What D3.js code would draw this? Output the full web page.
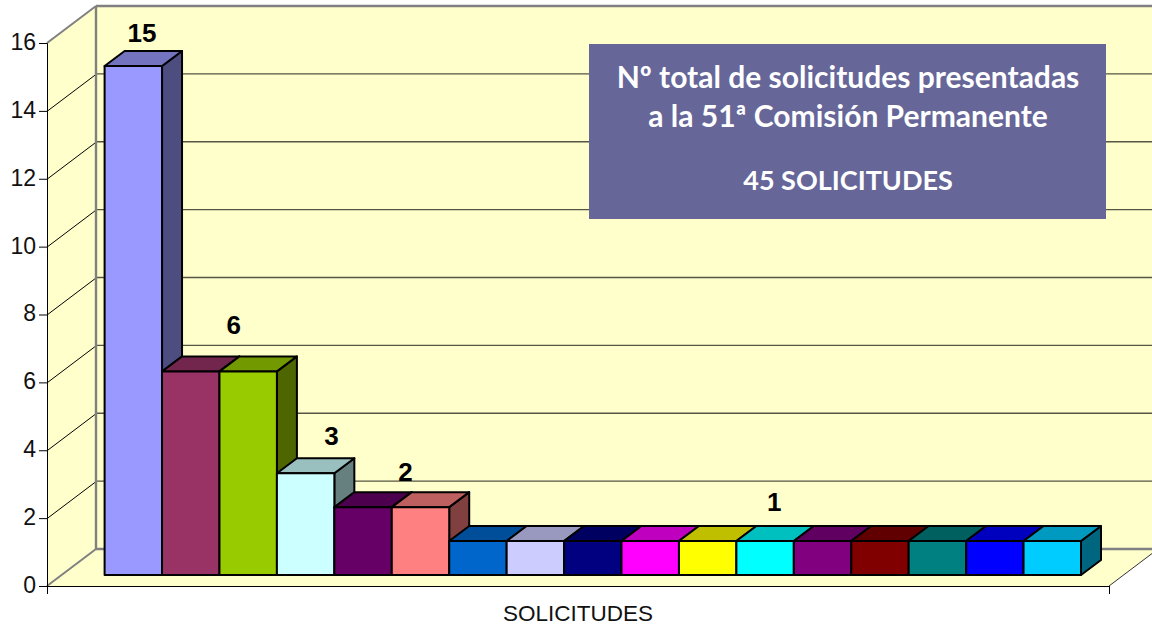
<!DOCTYPE html>
<html><head><meta charset="utf-8">
<script src="https://cdn.jsdelivr.net/npm/d3@7/dist/d3.min.js"></script>
<style>html,body{margin:0;padding:0;background:#fff;overflow:hidden}svg{display:block}</style>
</head><body><svg id="c" width="1152" height="625"></svg>
<script>
const categories = ["S1","S2","S3","S4","S5","S6","S7","S8","S9","S10","S11","S12","S13","S14","S15","S16","S17"];
const values = [15,6,6,3,2,2,1,1,1,1,1,1,1,1,1,1,1];
const barColors = ["#9999FF","#993366","#99CC00","#CCFFFF","#660066","#FF8080","#0066CC","#CCCCFF","#000080","#FF00FF","#FFFF00","#00FFFF","#800080","#800000","#008080","#0000FF","#00CCFF"];
const yTicks = [0,2,4,6,8,10,12,14,16];
const axisTitle = "SOLICITUDES";
const labelValues = [15,6,3,2,1];
const boxLines = ["Nº total de solicitudes presentadas","a la 51ª Comisión Permanente","45 SOLICITUDES"];

const svg = d3.select("#c");
const y = d3.scaleLinear().domain([0,16]).range([586,43]);
const x = d3.scaleBand().domain(categories).range([104.6,1081]).padding(0);
const frame = d3.scaleLinear().domain([0,1]).range([47,1109]);
const wallDx = 49, wallDy = -37, barDx = 20, barDy = -15, barBase = 575;
const yb = v => y(v) - y(0) + barBase;
const wall = "#FFFFCC", grey = "#808080";
const poly = p => p.map(d => d.join(",")).join(" ");
const shade = (c,k) => { const r = d3.rgb(c); return d3.rgb(r.r*k,r.g*k,r.b*k).formatHex(); };

const x0 = frame(0), x1 = frame(1), xr = 1160;
// walls
svg.append("polygon").attr("points",poly([[x0+wallDx,y(16)+wallDy],[xr,y(16)+wallDy],[xr,y(0)+wallDy],[x0+wallDx,y(0)+wallDy]])).attr("fill",wall);
svg.append("polygon").attr("points",poly([[x0,y(0)],[x0+wallDx,y(0)+wallDy],[x0+wallDx,y(16)+wallDy],[x0,y(16)]])).attr("fill",wall);
svg.append("polygon").attr("points",poly([[x0,y(0)],[x0+wallDx,y(0)+wallDy],[x1+wallDx,y(0)+wallDy],[x1,y(0)]])).attr("fill",wall);
// gridlines
const inner = yTicks.filter(t => t>0 && t<16);
svg.selectAll(".gs").data(inner).join("line").attr("x1",x0).attr("x2",x0+wallDx).attr("y1",d=>y(d)+.5).attr("y2",d=>y(d)+wallDy+.5).attr("stroke","#000").attr("stroke-width",1);
svg.selectAll(".gb").data(inner).join("line").attr("x1",x0+wallDx).attr("x2",xr).attr("y1",d=>y(d)+wallDy).attr("y2",d=>y(d)+wallDy).attr("stroke","#555544").attr("stroke-width",1.4);
// wall edges
const edge = (a,b,c,d,col,w)=>svg.append("line").attr("x1",a).attr("y1",b).attr("x2",c).attr("y2",d).attr("stroke",col).attr("stroke-width",w);
edge(x0,y(16),x0+wallDx,y(16)+wallDy,grey,2);
edge(x0,y(0),x0+wallDx,y(0)+wallDy,grey,2);
edge(x0+wallDx,y(16)+wallDy,x0+wallDx,y(0)+wallDy,grey,2.4);
edge(x0+wallDx,y(16)+wallDy,xr,y(16)+wallDy,grey,2.4);
edge(x0+wallDx,y(0)+wallDy,xr,y(0)+wallDy,grey,2.4);
edge(x1,y(0),x1+wallDx,y(0)+wallDy,"#333",1);
// axes
const gy = svg.append("g").attr("transform",`translate(${x0},0)`).call(d3.axisLeft(y).tickValues(yTicks).tickSize(8).tickPadding(3).tickFormat(d3.format("d")));
gy.selectAll("path,line").attr("stroke","#000").attr("stroke-width",1);
gy.selectAll("text").attr("font-family","'Liberation Sans',Arial,sans-serif").attr("font-size",23).attr("fill","#111").attr("dy","0.28em");
const gx = svg.append("g").attr("transform",`translate(0,${y(0)})`).call(d3.axisBottom(frame).tickValues([0,1]).tickSize(8).tickFormat(""));
gx.selectAll("path,line").attr("stroke","#000").attr("stroke-width",1);
// bars (back to front in left to right order)
const bars = svg.selectAll(".bar").data(categories.map((c,i)=>({c,v:values[i],col:barColors[i]}))).join("g").attr("class","bar");
const st = {stroke:"#000","stroke-width":2,"stroke-linejoin":"round"};
bars.each(function(d){
  const g = d3.select(this), l = x(d.c), r = l + x.bandwidth(), t = yb(d.v), b = barBase;
  const add = (pts,fill)=>{const p=g.append("polygon").attr("points",poly(pts)).attr("fill",fill);Object.entries(st).forEach(([k,v])=>p.attr(k,v));};
  add([[r,t],[r+barDx,t+barDy],[r+barDx,b+barDy],[r,b]],shade(d.col,.5));
  add([[l,t],[l+barDx,t+barDy],[r+barDx,t+barDy],[r,t]],shade(d.col,.75));
  add([[l,t],[r,t],[r,b],[l,b]],d.col);
});
// data labels: one per group of equal bars, placed as in the original
const labelBand = {15:0.65, 6:2.25, 3:3.95, 2:5.24, 1:11.66};
const labelLift = {15:17, 6:30, 3:21, 2:19, 1:23};
svg.selectAll(".lab").data(labelValues).join("text").attr("class","lab")
  .attr("x",d=>x(categories[0])+labelBand[d]*x.bandwidth())
  .attr("y",d=>yb(d)+barDy-labelLift[d]+8)
  .attr("text-anchor","middle").attr("font-family","'Liberation Sans',Arial,sans-serif").attr("font-weight","bold").attr("font-size",26).attr("fill","#000")
  .text(d=>d);
// axis title
svg.append("text").attr("x",578).attr("y",621).attr("text-anchor","middle").attr("font-family","'Liberation Sans',Arial,sans-serif").attr("font-size",22.5).attr("fill","#111").text(axisTitle);
// box
svg.append("rect").attr("x",589).attr("y",44).attr("width",517).attr("height",175).attr("fill","#666699");
svg.selectAll(".bl").data(boxLines).join("text").attr("class","bl").attr("x",848).attr("y",(d,i)=>[88,127,190][i])
  .attr("text-anchor","middle").attr("font-family","Lato,sans-serif").attr("font-weight","bold").attr("font-size",(d,i)=>[30,30,27][i]).attr("fill","#fff").text(d=>d);
</script></body></html>
